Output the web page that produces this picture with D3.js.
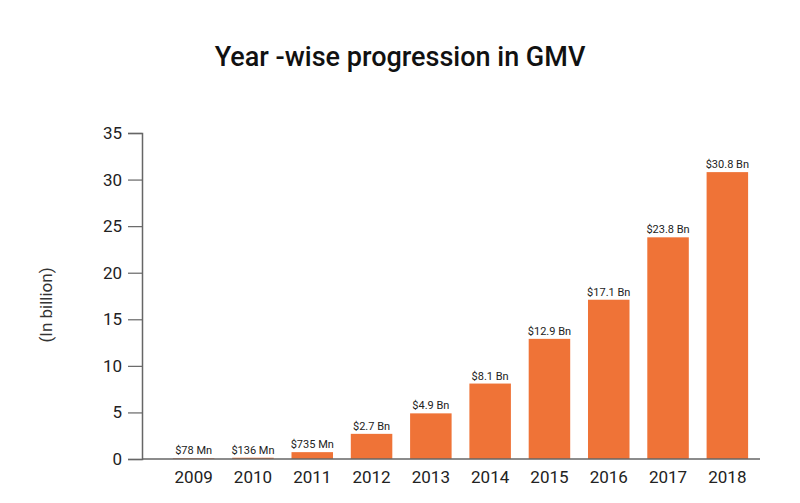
<!DOCTYPE html>
<html>
<head>
<meta charset="utf-8">
<script src="https://cdn.jsdelivr.net/npm/d3@7"></script>
<style>
  body { margin: 0; background: #fff; }
  text { font-family: Roboto, sans-serif; }
</style>
</head>
<body>
<svg id="chart" width="800" height="503"></svg>
<script>
// Données
const years = ["2009", "2010", "2011", "2012", "2013", "2014", "2015", "2016", "2017", "2018"]
const gmv = [0.078, 0.136, 0.735, 2.7, 4.9, 8.1, 12.9, 17.1, 23.8, 30.8]
const labels = ["$78 Mn", "$136 Mn", "$735 Mn", "$2.7 Bn", "$4.9 Bn", "$8.1 Bn", "$12.9 Bn", "$17.1 Bn", "$23.8 Bn", "$30.8 Bn"]
const yTicks = [0, 5, 10, 15, 20, 25, 30, 35]

const svg = d3.select("#chart")

const x = d3.scaleBand()
    .domain(years)
    .range([164, 757])
    .paddingInner(0.3)
    .paddingOuter(0.15)

const y = d3.scaleLinear()
    .domain([0, 35])
    .range([459, 133])

// Titre
svg.append("text")
    .attr("x", 400)
    .attr("y", 66)
    .attr("text-anchor", "middle")
    .style("font-size", "27px")
    .style("font-weight", "500")
    .attr("fill", "#111")
    .text("Year -wise progression in GMV")

// Axe Y
const yAxis = svg.append("g")
    .attr("transform", "translate(142,0)")
    .call(d3.axisLeft(y).tickValues(yTicks).tickSize(14).tickPadding(6))
yAxis.select(".domain").attr("stroke", "#666").attr("stroke-width", 1.5)
yAxis.selectAll(".tick line").attr("stroke", "#666").attr("stroke-width", 1.2)
yAxis.selectAll(".tick text")
    .style("font-size", "17px")
    .attr("fill", "#222")

svg.append("text")
    .attr("transform", "translate(52,305) rotate(-90)")
    .attr("text-anchor", "middle")
    .style("font-size", "17px")
    .attr("fill", "#333")
    .text("(In billion)")

// Barres
const data = years.map((d, i) => ({ year: d, v: gmv[i], label: labels[i] }))

svg.append("g")
    .selectAll("rect")
    .data(data)
    .enter()
    .append("rect")
    .attr("x", d => x(d.year))
    .attr("y", d => y(d.v))
    .attr("width", x.bandwidth())
    .attr("height", d => y(0) - y(d.v))
    .attr("fill", "#ef7337")

svg.append("g")
    .selectAll("text")
    .data(data)
    .enter()
    .append("text")
    .attr("x", d => x(d.year) + x.bandwidth() / 2)
    .attr("y", d => y(d.v) - 4)
    .attr("text-anchor", "middle")
    .style("font-size", "11px")
    .attr("fill", "#222")
    .text(d => d.label)

// Axe X
const xAxis = svg.append("g")
    .attr("transform", "translate(0,459)")
    .call(d3.axisBottom(x).tickSize(0).tickPadding(12))
xAxis.select(".domain").attr("d", "M142,0H760").attr("stroke", "#666").attr("stroke-width", 1.5)
xAxis.selectAll(".tick text")
    .style("font-size", "17px")
    .attr("fill", "#222")
</script>
</body>
</html>
